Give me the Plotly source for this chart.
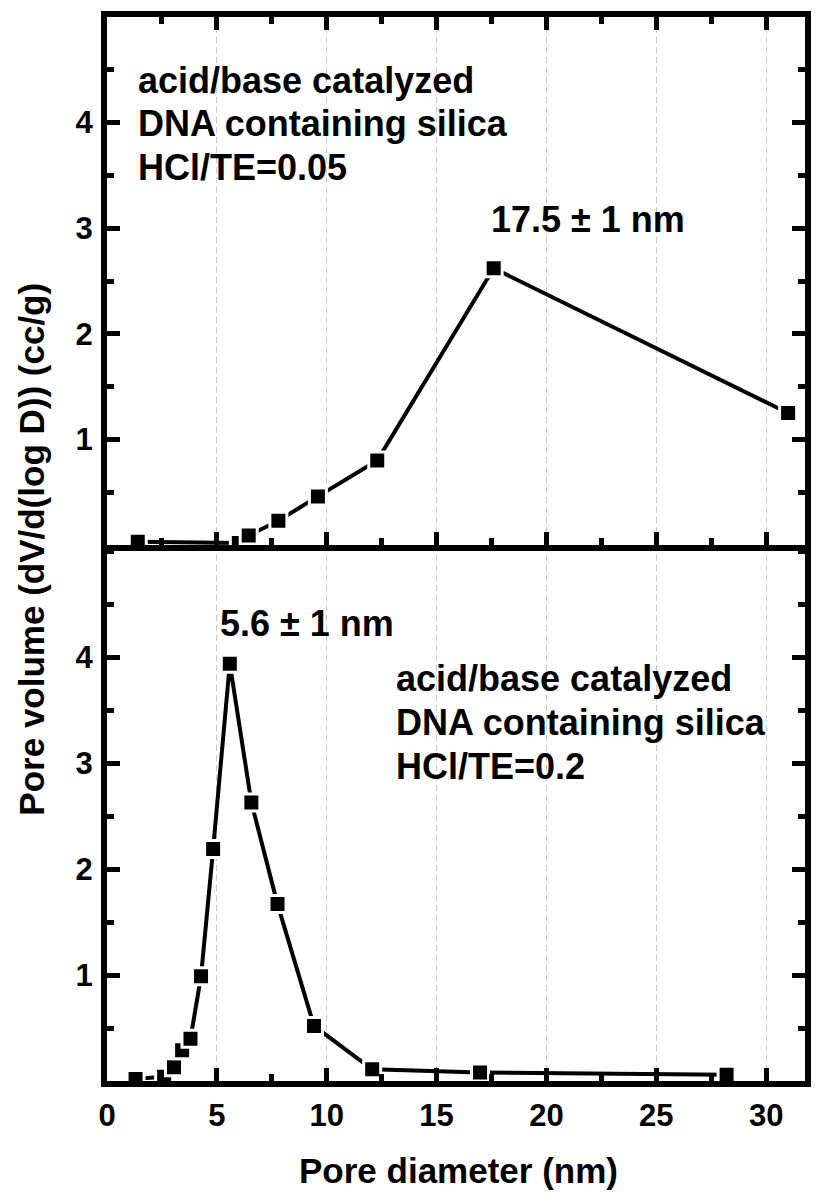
import plotly.graph_objects as go

# ---- data ----
top_x = [1.4, 6.0, 6.45, 7.8, 9.6, 12.3, 17.6, 31.0]
top_y = [0.03, 0.02, 0.09, 0.23, 0.46, 0.80, 2.62, 1.25]

bot_x = [1.3, 2.6, 3.05, 3.42, 3.8, 4.28, 4.83, 5.59, 6.57, 7.76, 9.42, 12.07, 16.98, 28.2]
bot_y = [0.02, 0.04, 0.13, 0.29, 0.40, 0.99, 2.19, 3.94, 2.63, 1.67, 0.52, 0.11, 0.08, 0.06]

x_ticks = [0, 5, 10, 15, 20, 25, 30]
y_ticks = [1, 2, 3, 4]

top_label = ["acid/base catalyzed", "DNA containing silica", "HCl/TE=0.05"]
bot_label = ["acid/base catalyzed", "DNA containing silica", "HCl/TE=0.2"]
top_peak = "17.5 \u00b1 1 nm"
bot_peak = "5.6 \u00b1 1 nm"
x_title = "Pore diameter (nm)"
y_title = "Pore volume (dV/d(log D)) (cc/g)"

W, H = 816, 1194
L, R, T, B = 107, 811, 17, 1081
MID = 545
FONT = "Liberation Sans, Arial, sans-serif"

split = (B - MID) / (B - T)

line_style = dict(color="black", width=4)
marker_style = dict(symbol="square", size=17, color="black",
                    line=dict(color="white", width=3))

fig = go.Figure()
fig.add_trace(go.Scatter(x=bot_x, y=bot_y, mode="lines+markers",
                         line=line_style, marker=marker_style,
                         xaxis="x", yaxis="y", showlegend=False))
fig.add_trace(go.Scatter(x=top_x, y=top_y, mode="lines+markers",
                         line=line_style, marker=marker_style,
                         xaxis="x2", yaxis="y2", showlegend=False))

xr = [0, (R - L) / 22.16]
tick_font = dict(family=FONT, size=31, color="black", weight="bold")

common_x = dict(range=xr, tickvals=x_ticks, ticks="inside", ticklen=13,
                tickwidth=5, tickcolor="black", showline=True, linewidth=6,
                linecolor="black", showgrid=True, gridcolor="#c8c8c8",
                gridwidth=1, griddash="6px,4px", zeroline=False,
                minor=dict(dtick=2.5, tick0=0, ticks="inside", ticklen=7,
                           tickwidth=5, tickcolor="black", showgrid=False),
                tickfont=tick_font)
common_y = dict(tickvals=y_ticks, ticks="inside", ticklen=13, tickwidth=5,
                tickcolor="black", showline=True, linewidth=6,
                linecolor="black", showgrid=False, zeroline=False,
                mirror="ticks",
                minor=dict(dtick=0.5, tick0=0, ticks="inside", ticklen=7,
                           tickwidth=5, tickcolor="black", showgrid=False),
                tickfont=tick_font, ticklabelstandoff=2)

fig.update_layout(
    width=W, height=H,
    margin=dict(l=L, r=W - R, t=T, b=H - B, pad=0),
    paper_bgcolor="white", plot_bgcolor="white",
    font=dict(family=FONT, color="black"),
    xaxis=dict(common_x, anchor="y", mirror=False, ticklabelstandoff=2),
    xaxis2=dict(common_x, anchor="y2", matches="x", mirror="ticks",
                showticklabels=False),
    yaxis=dict(common_y, domain=[0, split], range=[0, 5.06], anchor="x"),
    yaxis2=dict(common_y, domain=[split, 1], range=[0, 5.0], anchor="x2"),
)

def py(p):
    return (B - p) / (B - T)

def px(p):
    return (p - L) / (R - L)

ann_font = dict(family=FONT, size=36, color="black", weight="bold")
title_font = dict(family=FONT, size=35, color="black", weight="bold")

ann = []
for i, t in enumerate(top_label):
    ann.append(dict(text=t, x=px(136), y=py(80 + 44 * i),
                    xref="paper", yref="paper", xanchor="left",
                    yanchor="middle", showarrow=False, font=ann_font))
for i, t in enumerate(bot_label):
    ann.append(dict(text=t, x=px(396), y=py(678 + 44 * i),
                    xref="paper", yref="paper", xanchor="left",
                    yanchor="middle", showarrow=False, font=ann_font))
ann.append(dict(text=top_peak, x=px(592), y=py(219),
                xref="paper", yref="paper", xanchor="center",
                yanchor="middle", showarrow=False, font=ann_font))
ann.append(dict(text=bot_peak, x=px(309), y=py(623),
                xref="paper", yref="paper", xanchor="center",
                yanchor="middle", showarrow=False, font=ann_font))
ann.append(dict(text=x_title, x=px(462), y=py(1170),
                xref="paper", yref="paper", xanchor="center",
                yanchor="middle", showarrow=False, font=title_font))
ann.append(dict(text=y_title, x=px(30), y=py(549),
                xref="paper", yref="paper", xanchor="center",
                yanchor="middle", showarrow=False, textangle=-90,
                font=title_font))
fig.update_layout(annotations=ann)

fig.write_html("out.html")
